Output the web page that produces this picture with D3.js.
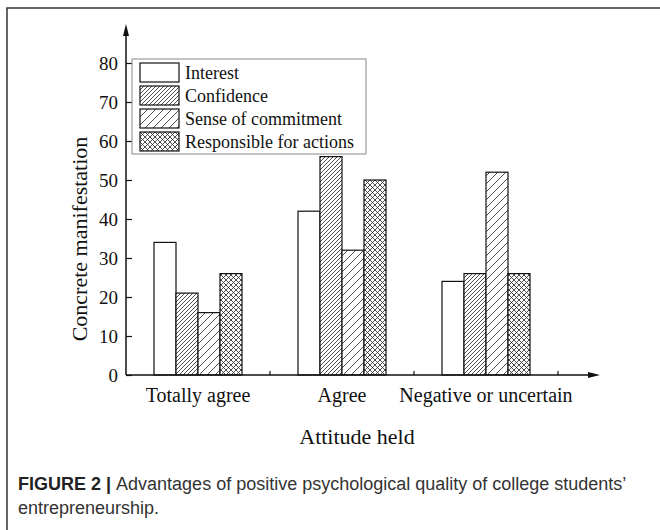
<!DOCTYPE html>
<html lang="en">
<head>
    <meta charset="UTF-8">
    <title>Figure 2</title>
    <style>
        body { margin: 0; background: #fff; }
        svg text { font-family: "Liberation Serif", "Times New Roman", serif; fill: #111; }
        .caption { font-family: "Liberation Sans", Arial, sans-serif; font-size: 18px; fill: #333; }
    </style>
</head>
<body>
    <div id="chart"></div>
    <script src="https://d3js.org/d3.v7.min.js"></script>
    <script>
        // data
        const categories = ["Totally agree", "Agree", "Negative or uncertain"];
        const seriesNames = ["Interest", "Confidence", "Sense of commitment", "Responsible for actions"];
        const interest = [34, 42, 24];
        const confidence = [21, 56, 26];
        const commitment = [16, 32, 52];
        const responsible = [26, 50, 26];
        const yTicks = [0, 10, 20, 30, 40, 50, 60, 70, 80];

        const seriesValues = [interest, confidence, commitment, responsible];
        const fills = ["#fff", "url(#dense)", "url(#sparse)", "url(#cross)"];

        const svg = d3.select("#chart").append("svg")
            .attr("width", 660)
            .attr("height", 530);

        // hatch patterns
        const defs = svg.append("defs");
        function hatch(id, size, paths) {
            const p = defs.append("pattern")
                .attr("id", id)
                .attr("patternUnits", "userSpaceOnUse")
                .attr("width", size)
                .attr("height", size);
            p.append("rect").attr("width", size).attr("height", size).attr("fill", "#fff");
            paths.forEach(d => p.append("path").attr("d", d)
                .attr("stroke", "#222").attr("stroke-width", 0.8).attr("fill", "none"));
        }
        hatch("dense", 4, ["M-1,1 L1,-1 M0,4 L4,0 M3,5 L5,3"]);
        hatch("sparse", 8, ["M-2,2 L2,-2 M0,8 L8,0 M6,10 L10,6"]);
        hatch("cross", 5, ["M-1,1 L1,-1 M0,5 L5,0 M4,6 L6,4", "M-1,4 L1,6 M0,0 L5,5 M4,-1 L6,1"]);

        // outer frame of the figure panel
        svg.append("path")
            .attr("d", "M7,530 L7,8 L660,8")
            .attr("fill", "none")
            .attr("stroke", "#333")
            .attr("stroke-width", 1.5);

        const x0 = d3.scaleBand().domain(categories).range([126, 558]);
        const x1 = d3.scaleBand().domain(seriesNames).range([28, 116]);
        const y = d3.scaleLinear().domain([0, 80]).range([375, 63]);

        // bars
        const groups = svg.append("g").selectAll("g")
            .data(categories)
            .join("g")
            .attr("transform", d => `translate(${x0(d)},0)`);

        groups.selectAll("rect")
            .data((c, ci) => seriesNames.map((s, si) => ({ s, si, v: seriesValues[si][ci] })))
            .join("rect")
            .attr("x", d => x1(d.s))
            .attr("y", d => y(d.v))
            .attr("width", x1.bandwidth())
            .attr("height", d => y(0) - y(d.v))
            .attr("fill", d => fills[d.si])
            .attr("stroke", "#111")
            .attr("stroke-width", 1.2);

        // y axis
        const yAxis = svg.append("g").attr("transform", "translate(126,0)");
        yAxis.call(d3.axisRight(y).tickValues(d3.range(0, 81, 5)).tickSize(3).tickFormat(""))
            .call(g => g.select(".domain").remove());
        yAxis.call(d3.axisRight(y).tickValues(yTicks).tickSize(6).tickFormat(""))
            .call(g => g.select(".domain").remove());
        yAxis.selectAll("line").attr("stroke", "#111").attr("stroke-width", 1.2);
        yAxis.selectAll(".ylab")
            .data(yTicks)
            .join("text")
            .attr("class", "ylab")
            .attr("x", -8)
            .attr("y", d => y(d) + 7)
            .attr("text-anchor", "end")
            .style("font-size", "19px")
            .text(d => d);

        // axis lines with arrows
        svg.append("line").attr("x1", 126).attr("x2", 126).attr("y1", 375).attr("y2", 32)
            .attr("stroke", "#111").attr("stroke-width", 1.5);
        svg.append("path").attr("d", "M126,24 L123,36 L129,36 Z").attr("fill", "#111");
        svg.append("line").attr("x1", 126).attr("x2", 592).attr("y1", 375).attr("y2", 375)
            .attr("stroke", "#111").attr("stroke-width", 1.5);
        svg.append("path").attr("d", "M600,375 L588,372 L588,378 Z").attr("fill", "#111");

        // x axis: ticks between groups, labels at centers
        svg.append("g").selectAll("line")
            .data(categories)
            .join("line")
            .attr("x1", d => x0(d) + x0.bandwidth())
            .attr("x2", d => x0(d) + x0.bandwidth())
            .attr("y1", 375)
            .attr("y2", 371)
            .attr("stroke", "#111")
            .attr("stroke-width", 1.2);
        svg.append("g").selectAll("text")
            .data(categories)
            .join("text")
            .attr("x", d => x0(d) + x0.bandwidth() / 2)
            .attr("y", 402)
            .attr("text-anchor", "middle")
            .style("font-size", "20px")
            .text(d => d);

        // axis titles
        svg.append("text")
            .attr("transform", "translate(87,239) rotate(-90)")
            .attr("text-anchor", "middle")
            .style("font-size", "22px")
            .text("Concrete manifestation");
        svg.append("text")
            .attr("x", 357)
            .attr("y", 444)
            .attr("text-anchor", "middle")
            .style("font-size", "22px")
            .text("Attitude held");

        // legend
        const legend = svg.append("g");
        legend.append("rect")
            .attr("x", 132).attr("y", 59)
            .attr("width", 234).attr("height", 95)
            .attr("fill", "#fff")
            .attr("stroke", "#888")
            .attr("stroke-width", 1);
        const items = legend.selectAll("g")
            .data(seriesNames)
            .join("g")
            .attr("transform", (d, i) => `translate(140,${63 + i * 23})`);
        items.append("rect")
            .attr("width", 39).attr("height", 19)
            .attr("fill", (d, i) => fills[i])
            .attr("stroke", "#111")
            .attr("stroke-width", 1.2);
        items.append("text")
            .attr("x", 45).attr("y", 16)
            .style("font-size", "18px")
            .text(d => d);

        // caption
        const cap = svg.append("text").attr("class", "caption").attr("x", 18).attr("y", 490);
        cap.append("tspan").style("font-weight", "bold").style("fill", "#222").text("FIGURE 2 | ");
        cap.append("tspan").text("Advantages of positive psychological quality of college students\u2019");
        svg.append("text").attr("class", "caption").attr("x", 18).attr("y", 514)
            .text("entrepreneurship.");
    </script>
</body>
</html>
